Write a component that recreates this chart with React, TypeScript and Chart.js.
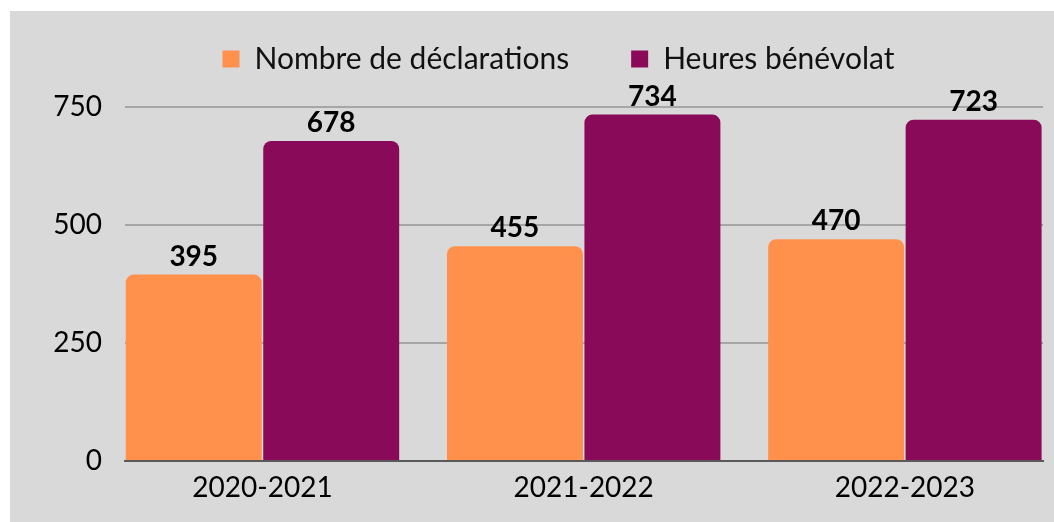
import React, { useEffect, useRef } from "react";
import { Chart, registerables } from "chart.js";

Chart.register(...registerables);

const categories = ["2020-2021", "2021-2022", "2022-2023"];
const seriesNames = ["Nombre de déclarations", "Heures bénévolat"];
const declarations = [395, 455, 470];
const heures = [678, 734, 723];
const seriesColors = ["#ff914d", "#8a0a5a"];
const yMin = 0;
const yMax = 750;
const yStep = 250;

const FONT = "Lato, 'Open Sans', sans-serif";

export default function App() {
  const ref = useRef<HTMLCanvasElement>(null);

  useEffect(() => {
    if (!ref.current) return;

    const valueLabels = {
      id: "valueLabels",
      afterDatasetsDraw(chart: any) {
        const ctx = chart.ctx;
        ctx.save();
        ctx.font = `bold 28px ${FONT}`;
        ctx.fillStyle = "#000000";
        ctx.textAlign = "center";
        ctx.textBaseline = "alphabetic";
        chart.data.datasets.forEach((ds: any, i: number) => {
          const meta = chart.getDatasetMeta(i);
          meta.data.forEach((bar: any, j: number) => {
            const v = ds.data[j].y;
            ctx.fillText(String(v), bar.x, bar.y - 9);
          });
        });
        ctx.restore();
      },
    };

    const legendFit = {
      id: "legendFit",
      afterInit(chart: any) {
        const lg = chart.legend;
        if (!lg) return;
        const origFit = lg.fit.bind(lg);
        lg.fit = function () {
          origFit();
          this.height = 125;
        };
        const origDraw = lg.draw.bind(lg);
        lg.draw = function () {
          const l = this.left;
          this.left = l + 64;
          origDraw();
          this.left = l;
        };
      },
    };

    const chart = new Chart(ref.current, {
      type: "bar",
      data: {
        datasets: [
          {
            label: seriesNames[0],
            data: declarations.map((y, i) => ({ x: i, y })),
            backgroundColor: seriesColors[0],
            borderRadius: 8,
            borderSkipped: "start",
          },
          {
            label: seriesNames[1],
            data: heures.map((y, i) => ({ x: i, y })),
            backgroundColor: seriesColors[1],
            borderRadius: 8,
            borderSkipped: "start",
          },
        ],
      },
      options: {
        animation: false,
        responsive: true,
        maintainAspectRatio: false,
        categoryPercentage: 0.856,
        barPercentage: 0.989,
        layout: { padding: { top: -29, left: 0, right: 11, bottom: 0 } },
        plugins: {
          tooltip: { enabled: false },
          legend: {
            display: true,
            position: "top",
            align: "center",
            labels: {
              boxWidth: 17,
              boxHeight: 17,
              padding: 62,
              color: "#111111",
              font: { family: FONT, size: 30 },
            },
          },
        },
        scales: {
          x: {
            type: "linear",
            offset: false,
            min: -0.428,
            max: 2.43,
            afterBuildTicks: (s: any) => {
              s.ticks = categories.map((_, i) => ({ value: i }));
            },
            afterFit: (s: any) => {
              s.height = 61;
            },
            grid: { display: true, offset: false, color: "rgba(0,0,0,0)", drawTicks: false },
            border: { display: true, color: "#595959", width: 2 },
            ticks: {
              autoSkip: false,
              maxRotation: 0,
              padding: 10,
              color: "#000000",
              font: { family: FONT, size: 28 },
              callback: (v: any) => categories[Math.round(Number(v))] ?? "",
            },
          },
          y: {
            min: yMin,
            max: yMax,
            afterFit: (s: any) => {
              s.width = 115;
            },
            grid: {
              color: (c: any) => (c.tick && c.tick.value === 0 ? "rgba(0,0,0,0)" : "#a6a6a6"),
              lineWidth: 2,
              drawTicks: false,
            },
            border: { display: false },
            ticks: {
              stepSize: yStep,
              padding: 23,
              color: "#000000",
              font: { family: FONT, size: 28 },
            },
          },
        },
      },
      plugins: [valueLabels, legendFit],
    } as any);

    return () => chart.destroy();
  }, []);

  return (
    <div
      style={{
        position: "absolute",
        left: 10,
        top: 11,
        width: 1044,
        height: 511,
        background: "#d9d9d9",
      }}
    >
      <canvas ref={ref} />
    </div>
  );
}
